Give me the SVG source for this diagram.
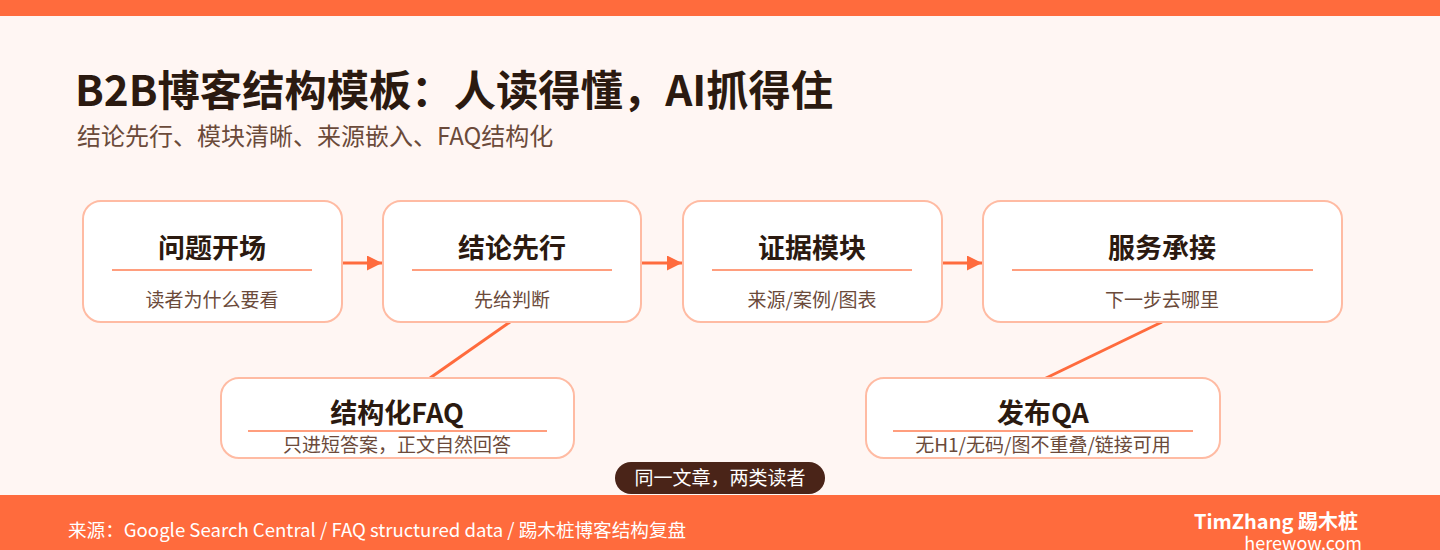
<svg xmlns="http://www.w3.org/2000/svg" width="1440" height="550" viewBox="0 0 1440 550">
<defs>
<style>
.t{font-family:"Noto Sans CJK SC","Noto Sans",sans-serif;}
.box{fill:#FFFFFF;stroke:#FFBBA3;stroke-width:2;}
.h{font-size:27px;font-weight:700;fill:#2B1A10;text-anchor:middle;}
.s{font-size:19px;fill:#6B4A3A;text-anchor:middle;}
.ul{stroke:#FF9E7E;stroke-width:2;}
.con{stroke:#FF6B3D;stroke-width:3;fill:none;}
</style>
<marker id="ah" viewBox="0 0 10 10" refX="10" refY="5" markerWidth="5" markerHeight="5" orient="auto" markerUnits="strokeWidth">
<path d="M0,0 L10,5 L0,10 z" fill="#FF6B3D"/>
</marker>
</defs>
<rect x="0" y="0" width="1440" height="550" fill="#FFF6F3"/>
<rect x="0" y="0" width="1440" height="16" fill="#FF6B3D"/>
<text class="t" x="75" y="106" font-size="42.3" font-weight="700" fill="#2B1A10">B2B博客结构模板：人读得懂，AI抓得住</text>
<text class="t" x="77" y="145" font-size="24" fill="#6B4A3A">结论先行、模块清晰、来源嵌入、FAQ结构化</text>

<g id="connectors">
<line class="con" x1="342" y1="263" x2="382" y2="263" marker-end="url(#ah)"/>
<line class="con" x1="641" y1="263" x2="682" y2="263" marker-end="url(#ah)"/>
<line class="con" x1="942" y1="263" x2="982" y2="263" marker-end="url(#ah)"/>
<line class="con" x1="510" y1="322" x2="430" y2="378"/>
<line class="con" x1="1162" y1="322" x2="1044" y2="379" stroke-width="2"/>
</g>

<g id="node1">
<rect class="box" x="83" y="201" width="259" height="121" rx="18"/>
<text class="t h" x="212" y="258">问题开场</text>
<line class="ul" x1="112" y1="270" x2="312" y2="270"/>
<text class="t s" x="212" y="307">读者为什么要看</text>
</g>
<g id="node2">
<rect class="box" x="383" y="201" width="258" height="121" rx="18"/>
<text class="t h" x="512" y="258">结论先行</text>
<line class="ul" x1="412" y1="270" x2="612" y2="270"/>
<text class="t s" x="512" y="307">先给判断</text>
</g>
<g id="node3">
<rect class="box" x="683" y="201" width="259" height="121" rx="18"/>
<text class="t h" x="812" y="258">证据模块</text>
<line class="ul" x1="712" y1="270" x2="912" y2="270"/>
<text class="t s" x="812" y="307">来源/案例/图表</text>
</g>
<g id="node4">
<rect class="box" x="983" y="201" width="359" height="121" rx="18"/>
<text class="t h" x="1162" y="258">服务承接</text>
<line class="ul" x1="1012" y1="270" x2="1313" y2="270"/>
<text class="t s" x="1162" y="307">下一步去哪里</text>
</g>
<g id="node5">
<rect class="box" x="221" y="378" width="353" height="80" rx="18"/>
<text class="t h" x="397" y="423">结构化FAQ</text>
<line class="ul" x1="248" y1="431" x2="547" y2="431"/>
<text class="t s" x="397" y="452">只进短答案，正文自然回答</text>
</g>
<g id="node6">
<rect class="box" x="866" y="378" width="354" height="80" rx="18"/>
<text class="t h" x="1043" y="423">发布QA</text>
<line class="ul" x1="893" y1="431" x2="1193" y2="431"/>
<text class="t s" x="1043" y="452">无H1/无码/图不重叠/链接可用</text>
</g>

<g id="pill">
<rect x="615" y="462" width="210" height="32" rx="16" fill="#4A2418"/>
<text class="t" x="720" y="485" font-size="19" fill="#FFFFFF" text-anchor="middle">同一文章，两类读者</text>
</g>

<rect x="0" y="495" width="1440" height="55" fill="#FF6B3D"/>
<text class="t" x="68" y="537" font-size="18.6" fill="#FFFFFF">来源：Google Search Central / FAQ structured data / 踢木桩博客结构复盘</text>
<text class="t" x="1358" y="529" font-size="20" font-weight="700" fill="#FFFFFF" text-anchor="end">TimZhang 踢木桩</text>
<text class="t" x="1362" y="550" font-size="18" fill="#FFFFFF" text-anchor="end">herewow.com</text>
</svg>
